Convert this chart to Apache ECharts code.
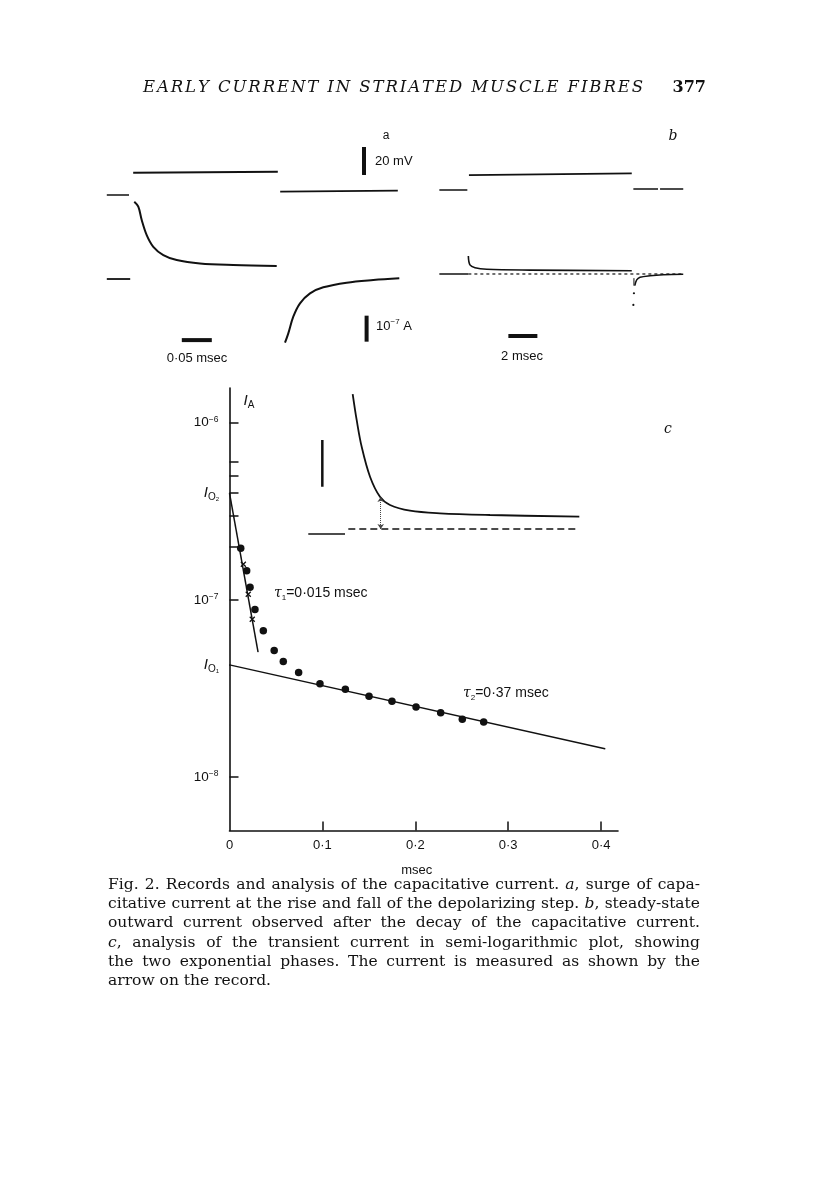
<!DOCTYPE html>
<html><head><meta charset="utf-8">
<script src="https://cdn.jsdelivr.net/npm/echarts@6/dist/echarts.min.js"></script>
<style>html,body{margin:0;padding:0;background:#fff}#c{width:816px;height:1190px}</style>
</head><body><div id="c"></div>
<script>
// ===== Panel c : semi-logarithmic analysis =====
const xTickValues = [0, 0.1, 0.2, 0.3, 0.4];
const xTickLabels = ['0', '0·1', '0·2', '0·3', '0·4'];
const yMajorTicks = [1e-8, 1e-7, 1e-6];
const yMajorExp = ['−8', '−7', '−6'];
const yMinorTicks = [2e-7, 3e-7, 4e-7, 5e-7, 6e-7];

// filled circles: time (msec), current (A)
const dotT = [0.0121, 0.0185, 0.0221, 0.0274, 0.0364, 0.0481, 0.0579, 0.0744, 0.0974, 0.1247, 0.1502, 0.1749, 0.2008, 0.2273, 0.2506, 0.2736];
const dotI = [1.96e-7, 1.46e-7, 1.18e-7, 8.83e-8, 6.71e-8, 5.18e-8, 4.49e-8, 3.89e-8, 3.37e-8, 3.13e-8, 2.86e-8, 2.68e-8, 2.49e-8, 2.31e-8, 2.12e-8, 2.05e-8];
// crosses (fast component after subtraction)
const crossT = [0.0149, 0.0202, 0.0245];
const crossI = [1.59e-7, 1.077e-7, 7.78e-8];
// fitted straight lines
const fastFitT = [0, 0.0307];
const fastFitI = [4.0e-7, 5.1e-8];
const slowFitT = [0, 0.4042];
const slowFitI = [4.3e-8, 1.445e-8];

// ===== Inset record in c : time (msec), current (nA) =====
const insetCurve = [[0.0878, 289], [0.0945, 233], [0.1028, 176], [0.1167, 112], [0.1333, 69], [0.15, 51.4], [0.1833, 39.2], [0.2333, 33.6], [0.3167, 30], [0.4655, 26.3]];
const insetRest = [[0.0138, -10.7], [0.075, -10.7]];
const insetBase = [[0.0805, 0], [0.4655, 0]];
const insetArrow = [[0.1345, 0], [0.1345, 68.5]];
const insetBar = [[0.0372, 90.5], [0.0372, 190.5]];

// ===== Panel a : time (msec), voltage (mV), current (nA) =====
const aVoltRest = [[0.003, 0], [0.040, 0]];
const aVoltStep = [[0.047, 15.9], [0.288, 16.6]];
const aVoltFall = [[0.292, 2.4], [0.488, 3.1]];
const aCurRest = [[0.003, 0], [0.042, 0]];
const aCurOn = [[0.0488, 297], [0.0555, 278], [0.0612, 227], [0.0695, 169], [0.0805, 124], [0.0972, 92], [0.1195, 73], [0.1583, 60], [0.2138, 54], [0.2862, 50]];
const aCurOff = [[0.300, -245], [0.3055, -209], [0.3138, -145], [0.325, -93.5], [0.3417, -55], [0.3638, -32], [0.4028, -14], [0.4472, -4], [0.4905, 2.7]];
const aVoltBar = [[0.4317, 14.3], [0.4317, 34.3]];   // 20 mV
const aCurBar = [[0.436, -141], [0.436, -241]];      // 1e-7 A
const aTimeBar = [[0.128, -235], [0.178, -235]];     // 0.05 msec

// ===== Panel b : time (msec), voltage (mV), current (nA) =====
const bVoltRest = [[0.30, 0], [2.23, 0]];
const bVoltStep = [[2.34, 10.7], [2.41, 11.9], [13.57, 11.9]];
const bVoltAfter = [[13.68, 0.7], [15.38, 0.7], [15.45, null], [15.52, 0.7], [17.12, 0.7]];
const bCurRest = [[0.30, 0], [2.30, 0]];
const bCurOn = [[2.30, 69], [2.41, 35], [2.76, 24], [3.57, 18], [6.55, 15], [13.57, 12.7]];
const bCurDrop = [[13.72, -16], [13.72, -45]];
const bCurRecovery = [[13.78, -45], [13.91, -23], [14.14, -12.7], [14.83, -6.5], [15.74, -2.7], [17.12, -1.2]];
const bCurDots = [[13.72, -74], [13.68, -119]];
const bBaseline = [[2.30, 0], [17.12, 0]];
const bTimeBar = [[5.06, -238.5], [7.06, -238.5]];   // 2 msec

// ===== Text =====
const headerText = 'EARLY CURRENT IN STRIATED MUSCLE FIBRES';
const pageNumber = '377';
const captionLines = [
  'Fig. 2. Records and analysis of the capacitative current. *a*, surge of capa-',
  'citative current at the rise and fall of the depolarizing step. *b*, steady-state',
  'outward current observed after the decay of the capacitative current.',
  '*c*, analysis of the transient current in semi-logarithmic plot, showing',
  'the two exponential phases. The current is measured as shown by the',
  'arrow on the record.'
];

// ---------------------------------------------------------------
const INK = '#111';
const SANS = '"Liberation Sans", Arial, sans-serif';
const SERIF = '"DejaVu Serif", serif';
const zip = (a, b) => a.map((v, i) => [v, b[i]]);

const mctx = document.createElement('canvas').getContext('2d');
function tw(str, font) { mctx.font = font; return mctx.measureText(str).width; }
function txt(text, x, y, font, align) {
  return { type: 'text', x: x, y: y, silent: true, style: { text: text, font: font, fill: INK, align: align || 'left', textAlign: align || 'left', verticalAlign: 'middle', textVerticalAlign: 'middle' } };
}
function richTxt(text, x, y, rich, align) {
  return { type: 'text', x: x, y: y, silent: true, style: { text: text, rich: rich, fill: INK, align: align || 'left', textAlign: align || 'left', verticalAlign: 'middle', textVerticalAlign: 'middle' } };
}
const graphics = [];
// header with letter spacing
(function () {
  const font = 'italic 16.5px ' + SERIF;
  const chars = [...headerText];
  const w = chars.map(c => tw(c, font));
  const total = w.reduce((a, b) => a + b, 0);
  const x0 = 143, x1 = 643;
  const extra = (x1 - x0 - total) / (chars.length - 1);
  let x = x0;
  chars.forEach((c, i) => { if (c !== ' ') graphics.push(txt(c, x, 88, font)); x += w[i] + extra; });
  graphics.push(txt(pageNumber, 706, 88, 'bold 16px ' + SERIF, 'right'));
})();
// justified caption
(function () {
  const fN = '15.5px ' + SERIF, fI = 'italic 15.5px ' + SERIF;
  const left = 108, right = 700, top = 885, lh = 19.2;
  captionLines.forEach((line, li) => {
    const words = line.split(' ').map(w => {
      const segs = [];
      const m = w.match(/^\*(.+?)\*(.*)$/);
      if (m) { segs.push([m[1], fI]); if (m[2]) segs.push([m[2], fN]); } else segs.push([w, fN]);
      return segs;
    });
    const widths = words.map(s => s.reduce((a, g) => a + tw(g[0], g[1]), 0));
    const sum = widths.reduce((a, b) => a + b, 0);
    const last = li === captionLines.length - 1;
    const gap = last ? tw(' ', fN) : (right - left - sum) / (words.length - 1);
    let x = left; const y = top + li * lh;
    words.forEach((segs, wi) => {
      let xx = x;
      segs.forEach(g => { graphics.push(txt(g[0], xx, y, g[1])); xx += tw(g[0], g[1]); });
      x += widths[wi] + gap;
    });
  });
})();
// panel labels and calibrations
const f13 = '13px ' + SANS;
graphics.push(txt('a', 386, 136, '12px ' + SANS, 'center'));
graphics.push(txt('b', 673, 136, 'italic 14px ' + SERIF, 'center'));
graphics.push(txt('c', 668, 429, 'italic 14px ' + SERIF, 'center'));
graphics.push(txt('20 mV', 375, 161, f13));
graphics.push(richTxt('{b|10}{s|−7}{b| A}', 376, 326, {
  b: { fontSize: 13, fontFamily: SANS, color: INK, lineHeight: 16 },
  s: { fontSize: 8, fontFamily: SANS, color: INK, verticalAlign: 'top', lineHeight: 16 }
}));
graphics.push(txt('0·05 msec', 197, 358, f13, 'center'));
graphics.push(txt('2 msec', 522, 356, f13, 'center'));
const tauRich = {
  t: { fontSize: 14, fontFamily: SERIF, fontStyle: 'italic', color: INK, lineHeight: 18 },
  n: { fontSize: 8, fontFamily: SANS, color: INK, verticalAlign: 'bottom', lineHeight: 18 },
  r: { fontSize: 14, fontFamily: SANS, color: INK, lineHeight: 18 }
};
graphics.push(richTxt('{t|τ}{n|1}{r|=0·015 msec}', 274, 593, tauRich));
graphics.push(richTxt('{t|τ}{n|2}{r|=0·37 msec}', 463, 693, tauRich));

const ioRich = {
  i: { fontSize: 15, fontFamily: SANS, fontStyle: 'italic', color: INK, lineHeight: 18 },
  o: { fontSize: 10, fontFamily: SANS, color: INK, verticalAlign: 'bottom', lineHeight: 16 },
  n: { fontSize: 6, fontFamily: SANS, color: INK, verticalAlign: 'bottom', lineHeight: 13 }
};

function fitSeries(name, T, I, label) {
  const data = zip(T, I).map((p, i) => i === 0 ? { value: p, label: { show: true, position: 'left', distance: 10, formatter: label, rich: ioRich } } : { value: p, label: { show: false } });
  return { name: name, type: 'line', xAxisIndex: 0, yAxisIndex: 0, data: data, symbol: 'circle', symbolSize: 1, showSymbol: true,
    itemStyle: { color: INK }, lineStyle: { color: INK, width: 1.5 }, silent: true, z: 3 };
}
function trace(name, data, xi, yi, width, extra) {
  return Object.assign({ name: name, type: 'line', xAxisIndex: xi, yAxisIndex: yi, data: data, showSymbol: false, smooth: 0.35,
    lineStyle: { color: INK, width: width }, silent: true, connectNulls: false }, extra || {});
}
function bar(name, data, xi, yi, width) {
  return { name: name, type: 'line', xAxisIndex: xi, yAxisIndex: yi, data: data, showSymbol: false,
    lineStyle: { color: INK, width: width, cap: 'butt' }, silent: true };
}

const option = {
  animation: false,
  backgroundColor: '#fff',
  textStyle: { fontFamily: SANS },
  grid: [
    { left: 229.5, top: 388, width: 388.5, height: 442.5 },
    { left: 300, top: 385, width: 290, height: 160 },
    { left: 105, top: 130, width: 300, height: 230 },
    { left: 435, top: 130, width: 255, height: 230 }
  ],
  xAxis: [
    { gridIndex: 0, type: 'value', min: 0, max: 0.4182,
      axisLine: { show: true, onZero: false, lineStyle: { color: INK, width: 1.6 } },
      axisTick: { show: true, inside: true, length: 9, customValues: xTickValues.slice(1), lineStyle: { color: INK, width: 1.5 } },
      axisLabel: { customValues: xTickValues, margin: 8, color: INK, fontSize: 13, fontFamily: SANS,
        formatter: v => { const k = xTickValues.findIndex(t => Math.abs(t - v) < 1e-9); return k < 0 ? '' : xTickLabels[k]; } },
      splitLine: { show: false },
      name: 'msec', nameLocation: 'middle', nameGap: 33,
      nameTextStyle: { color: INK, fontSize: 13, fontFamily: SANS, padding: [0, 14, 0, 0] } },
    { gridIndex: 1, type: 'value', min: 0, max: 0.4833, show: false },
    { gridIndex: 2, type: 'value', min: 0, max: 0.5, show: false },
    { gridIndex: 3, type: 'value', min: 0, max: 17.586, show: false }
  ],
  yAxis: [
    { gridIndex: 0, type: 'log', logBase: 10, min: 5.0e-9, max: 1.57e-6,
      axisLine: { show: true, onZero: false, lineStyle: { color: INK, width: 1.6 } },
      axisTick: { show: true, inside: true, length: 9, customValues: yMajorTicks.concat(yMinorTicks), lineStyle: { color: INK, width: 1.5 } },
      axisLabel: { customValues: yMajorTicks, margin: 11, color: INK,
        formatter: v => { const k = yMajorTicks.findIndex(t => Math.abs(Math.log10(t) - Math.log10(v)) < 1e-6); return k < 0 ? '' : '{b|10}{s|' + yMajorExp[k] + '}'; },
        rich: { b: { fontSize: 13.5, fontFamily: SANS, color: INK, lineHeight: 16 }, s: { fontSize: 8.5, fontFamily: SANS, color: INK, verticalAlign: 'top', lineHeight: 16 } } },
      splitLine: { show: false },
      name: '{i|I}{a|A}', nameLocation: 'end', nameGap: -22,
      nameTextStyle: { align: 'left', padding: [0, 0, 0, 14], rich: {
        i: { fontSize: 15, fontFamily: SANS, fontStyle: 'italic', color: INK, lineHeight: 18 },
        a: { fontSize: 10, fontFamily: SANS, color: INK, verticalAlign: 'bottom', lineHeight: 16 } } } },
    { gridIndex: 1, type: 'value', min: -34.26, max: 308.3, show: false },
    { gridIndex: 2, type: 'value', min: -117.86, max: 46.43, show: false },
    { gridIndex: 2, type: 'value', min: -311.5, max: 573.1, show: false },
    { gridIndex: 3, type: 'value', min: -121.4, max: 42.86, show: false },
    { gridIndex: 3, type: 'value', min: -330.8, max: 553.8, show: false }
  ],
  graphic: { elements: graphics },
  series: [
    { name: 'measured', type: 'scatter', xAxisIndex: 0, yAxisIndex: 0, data: zip(dotT, dotI), symbol: 'circle', symbolSize: 7.5, itemStyle: { color: INK, opacity: 1 }, silent: true, z: 4 },
    { name: 'fast component', type: 'scatter', xAxisIndex: 0, yAxisIndex: 0, data: zip(crossT, crossI), symbol: 'path://M0,0L10,10M10,0L0,10', symbolSize: 5,
      itemStyle: { color: 'none', borderColor: INK, borderWidth: 1.3, opacity: 1 }, silent: true, z: 4 },
    fitSeries('fast fit', fastFitT, fastFitI, '{i|I}{o|O}{n|2}'),
    fitSeries('slow fit', slowFitT, slowFitI, '{i|I}{o|O}{n|1}'),
    // inset
    trace('inset record', insetCurve, 1, 1, 1.8),
    trace('inset rest', insetRest, 1, 1, 1.6, { smooth: false }),
    trace('inset baseline', insetBase, 1, 1, 1.3, { smooth: false, lineStyle: { color: INK, width: 1.3, type: [7, 4] } }),
    { name: 'inset arrow', type: 'line', xAxisIndex: 1, yAxisIndex: 1, data: insetArrow, showSymbol: false, lineStyle: { opacity: 0 }, silent: true,
      markLine: { silent: true, symbol: ['arrow', 'arrow'], symbolSize: 5, label: { show: false }, lineStyle: { color: '#444', width: 1, type: 'dotted' },
        data: [[{ coord: insetArrow[0] }, { coord: insetArrow[1] }]] } },
    bar('inset scale', insetBar, 1, 1, 2.5),
    // panel a
    trace('a V rest', aVoltRest, 2, 2, 1.6, { smooth: false }),
    trace('a V step', aVoltStep, 2, 2, 1.8, { smooth: false }),
    trace('a V fall', aVoltFall, 2, 2, 1.6, { smooth: false }),
    trace('a I rest', aCurRest, 2, 3, 1.8, { smooth: false }),
    trace('a I on', aCurOn, 2, 3, 2),
    trace('a I off', aCurOff, 2, 3, 2),
    bar('a 20 mV', aVoltBar, 2, 2, 4),
    bar('a 1e-7 A', aCurBar, 2, 3, 4),
    bar('a 0.05 msec', aTimeBar, 2, 3, 4),
    // panel b
    trace('b V rest', bVoltRest, 3, 4, 1.5, { smooth: false }),
    trace('b V step', bVoltStep, 3, 4, 1.7, { smooth: false }),
    trace('b V after', bVoltAfter, 3, 4, 1.5, { smooth: false }),
    trace('b I rest', bCurRest, 3, 5, 1.6, { smooth: false }),
    trace('b I on', bCurOn, 3, 5, 1.6),
    trace('b I drop', bCurDrop, 3, 5, 1, { smooth: false }),
    trace('b I recovery', bCurRecovery, 3, 5, 1.5),
    trace('b baseline', bBaseline, 3, 5, 1.2, { smooth: false, lineStyle: { color: INK, width: 1.2, type: [3, 3] } }),
    { name: 'b dots', type: 'scatter', xAxisIndex: 3, yAxisIndex: 5, data: bCurDots, symbolSize: 2.2, itemStyle: { color: INK, opacity: 1 }, silent: true },
    bar('b 2 msec', bTimeBar, 3, 5, 4)
  ]
};
const chart = echarts.init(document.getElementById('c'), null, { renderer: 'canvas' });
chart.setOption(option);
</script></body></html>
